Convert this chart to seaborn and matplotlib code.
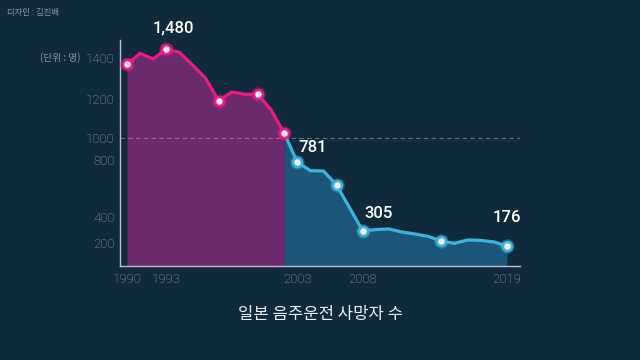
import numpy as np
import pandas as pd
import seaborn as sns
import matplotlib.pyplot as plt

# data read from the infographic
years = list(range(1990, 2020))
deaths = [1369, 1442, 1395, 1480, 1451, 1366, 1302, 1191, 1234, 1223,
          1223, 1144, 1025, 781, 721, 719, 622, 464, 305, 315,
          319, 296, 279, 258, 219, 199, 228, 224, 211, 176]
split_year = 2002
marked_years = [1990, 1993, 1997, 2000, 2002, 2003, 2006, 2008, 2014, 2019]
label_years = [1993, 2003, 2008, 2019]
label_texts = ['1,480', '781', '305', '176']
x_ticks = [1990, 1993, 2003, 2008, 2019]
y_ticks = [200, 400, 800, 1000, 1200, 1400]

BG = '#112a3b'
PINK = '#ec1a84'
PINK_FILL = '#6a2a6c'
BLUE = '#3ab4de'
BLUE_FILL = '#1b5678'
GREY = '#95a2ad'

df = pd.DataFrame({'year': years, 'deaths': deaths})
pink = df[df.year <= split_year]
blue = df[df.year >= split_year]

sns.set_style('dark', {'axes.facecolor': BG, 'figure.facecolor': BG})
plt.rcParams['font.family'] = ['Roboto', 'DejaVu Sans']

fig = plt.figure(figsize=(6.4, 3.6), dpi=100)
ax = fig.add_axes([120 / 640, 94 / 360, 400 / 640, 226 / 360])

# the infographic's vertical axis is hand drawn, not linear
brk_v = [0, 176, 305, 781, 1000, 1200, 1400, 1480, 1560]
brk_p = [266, 246, 231, 162, 138, 99, 58, 49, 40]
def fwd(v):
    return -np.interp(v, brk_v, brk_p)
def inv(p):
    return np.interp(-np.asarray(p), brk_p[::-1], brk_v[::-1])
ax.set_yscale('function', functions=(fwd, inv))

ax.fill_between(pink.year, pink.deaths, 0, color=PINK_FILL, lw=0, zorder=1)
ax.fill_between(blue.year, blue.deaths, 0, color=BLUE_FILL, lw=0, zorder=1)
ax.axhline(1000, color='#c9a9cc', ls=(0, (4, 3)), lw=0.8, alpha=0.5, zorder=2)

sns.lineplot(data=pink, x='year', y='deaths', color=PINK, lw=2.3, ax=ax, zorder=3)
sns.lineplot(data=blue, x='year', y='deaths', color=BLUE, lw=2.3, ax=ax, zorder=3)

marks = df[df.year.isin(marked_years)]
m_pink = marks[marks.year <= split_year]
m_blue = marks[marks.year > split_year]
for m, c in [(m_blue, BLUE), (m_pink, PINK)]:
    sns.scatterplot(data=m, x='year', y='deaths', s=110, color=c, alpha=0.35,
                    linewidth=0, ax=ax, zorder=4)
    sns.scatterplot(data=m, x='year', y='deaths', s=42, color='#f4eef6',
                    edgecolor=c, linewidth=1.8, ax=ax, zorder=5)

offsets = [(7, 21, 'center'), (1, 14, 'left'), (2, 17, 'left'), (0, 28, 'center')]
for yr, txt, (dx, dy, ha) in zip(label_years, label_texts, offsets):
    val = df.loc[df.year == yr, 'deaths'].iloc[0]
    ax.annotate(txt, (yr, val), xytext=(dx, dy), textcoords='offset pixels',
                ha=ha, va='center', color='white', fontsize=12, fontweight='medium',
                zorder=6)

ax.set_xlim(1989.47, 2020)
ax.set_ylim(0, 1560)
ax.set_xticks(x_ticks)
ax.set_xticklabels([str(t) for t in x_ticks], fontweight='light')
ax.set_yticks(y_ticks)
ax.set_yticklabels([str(t) for t in y_ticks], fontweight='light')
ax.tick_params(axis='both', length=0, colors=GREY, labelsize=9.5)
ax.tick_params(axis='y', pad=4)
ax.tick_params(axis='x', pad=5)
ax.set_xlabel('')
ax.set_ylabel('')
ax.grid(False)
for s in ['top', 'right']:
    ax.spines[s].set_visible(False)
for s in ['left', 'bottom']:
    ax.spines[s].set_visible(True)
    ax.spines[s].set_color('#b9c3cb')
    ax.spines[s].set_linewidth(1)

kr = ['Noto Sans CJK KR', 'DejaVu Sans']
fig.text(7 / 640, 1 - 12 / 360, '디자인 : 김진배', ha='left', va='center',
         color='#8796a3', fontsize=6, family=kr)
fig.text(80 / 640, 1 - 58 / 360, '(단위 : 명)', ha='right', va='center',
         color='#8796a3', fontsize=7, family=kr)
fig.text(0.5, 1 - 315 / 360, '일본 음주운전 사망자 수', ha='center', va='center',
         color='#e8eef2', fontsize=12, family=kr)

fig.savefig('out.png', dpi=100, facecolor=BG)
